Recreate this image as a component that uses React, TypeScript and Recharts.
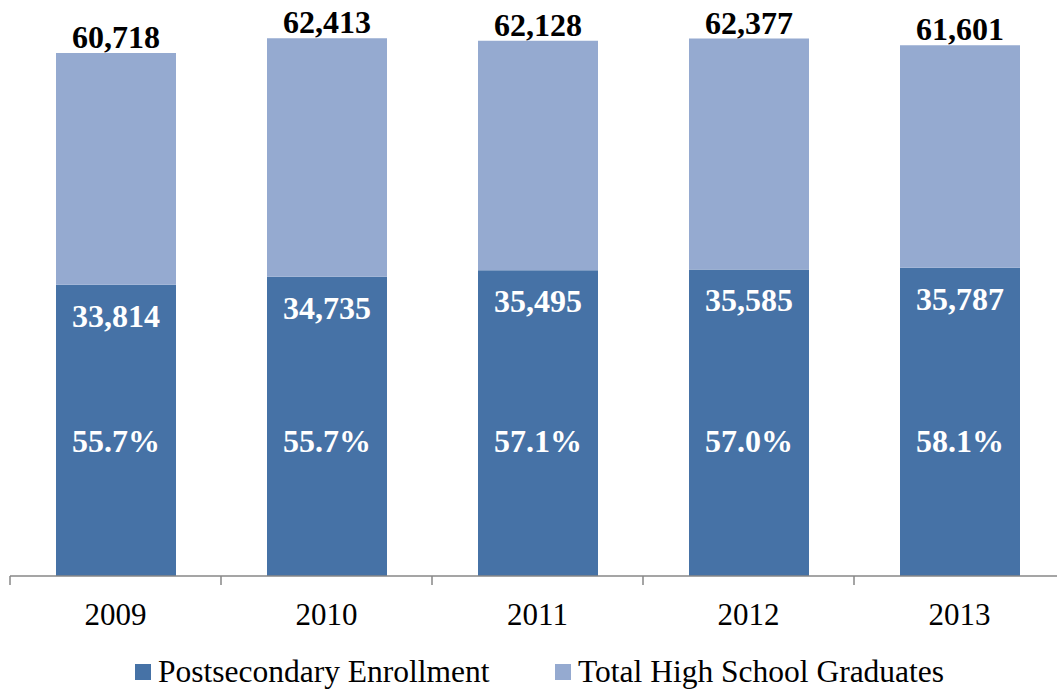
import React from "react";
import { BarChart, Bar, XAxis, YAxis, Legend, LabelList } from "recharts";

const years = ["2009", "2010", "2011", "2012", "2013"];
const totalGraduates = [60718, 62413, 62128, 62377, 61601];
const enrollment = [33814, 34735, 35495, 35585, 35787];
const enrollmentPct = ["55.7%", "55.7%", "57.1%", "57.0%", "58.1%"];

const DARK = "#4672A6";
const LIGHT = "#95AAD0";
const FONT = "'Liberation Serif', 'Times New Roman', serif";

const data = years.map((y, i) => ({
  year: y,
  enrollment: enrollment[i],
  remainder: totalGraduates[i] - enrollment[i],
  total: totalGraduates[i],
  pct: enrollmentPct[i],
}));

const fmt = (v: number) => v.toLocaleString("en-US");

const Tick = (props: any) => {
  const { x, y, payload, index } = props;
  const off = payload && typeof payload.offset === "number" && payload.offset > 0 ? payload.offset : 105.5;
  return (
    <g>
      <line x1={x - off} x2={x - off} y1={y} y2={y + 9} stroke="#878787" strokeWidth={1.5} />
      {index === years.length - 1 && (
        <line x1={x + off} x2={x + off} y1={y} y2={y + 9} stroke="#878787" strokeWidth={1.5} />
      )}
      <text x={x} y={y + 49} textAnchor="middle" fontFamily={FONT} fontSize={31} fill="#000">
        {payload.value}
      </text>
    </g>
  );
};

const EnrollLabel = (props: any) => {
  const { x, y, width, height, index } = props;
  const cx = x + width / 2;
  const bottom = y + height;
  return (
    <g>
      <text x={cx} y={y + 42} textAnchor="middle" fontFamily={FONT} fontWeight="bold" fontSize={32} fill="#fff">
        {fmt(enrollment[index])}
      </text>
      <text x={cx} y={bottom - 124} textAnchor="middle" fontFamily={FONT} fontWeight="bold" fontSize={32} fill="#fff">
        {enrollmentPct[index]}
      </text>
    </g>
  );
};

const TotalLabel = (props: any) => {
  const { x, y, width, index } = props;
  return (
    <text x={x + width / 2} y={y - 5} textAnchor="middle" fontFamily={FONT} fontWeight="bold" fontSize={32} fill="#000">
      {fmt(totalGraduates[index])}
    </text>
  );
};

const LegendContent = () => (
  <div style={{ height: 40, position: "relative", fontFamily: FONT, fontSize: 31.5, color: "#000" }}>
    <div style={{ position: "absolute", left: 135, top: 0, display: "flex", alignItems: "center", height: 40 }}>
      <span style={{ width: 16, height: 16, background: DARK, display: "inline-block", marginRight: 7 }} />
      <span>Postsecondary Enrollment</span>
    </div>
    <div style={{ position: "absolute", left: 555, top: 0, display: "flex", alignItems: "center", height: 40 }}>
      <span style={{ width: 16, height: 16, background: LIGHT, display: "inline-block", marginRight: 7 }} />
      <span>Total High School Graduates</span>
    </div>
  </div>
);

export default function App() {
  return (
    <div style={{ position: "fixed", left: 0, top: 0, width: 1057, height: 692, overflow: "hidden", background: "#fff" }}>
      <BarChart
        width={1065}
        height={692}
        data={data}
        margin={{ top: 16, right: 0, bottom: 0, left: 10 }}
        barSize={120}
      >
        <XAxis
          dataKey="year"
          height={76}
          tickLine={false}
          tickSize={0}
          tickMargin={0}
          axisLine={{ stroke: "#878787", strokeWidth: 1.5 }}
          tick={<Tick />}
          interval={0}
        />
        <YAxis hide domain={[0, 65000]} allowDataOverflow />
        <Legend verticalAlign="bottom" content={<LegendContent />} wrapperStyle={{ left: 0, width: 1065 }} />
        <Bar dataKey="enrollment" stackId="a" fill={DARK} name="Postsecondary Enrollment" isAnimationActive={false}>
          <LabelList dataKey="enrollment" content={<EnrollLabel />} />
        </Bar>
        <Bar dataKey="remainder" stackId="a" fill={LIGHT} name="Total High School Graduates" isAnimationActive={false}>
          <LabelList dataKey="remainder" content={<TotalLabel />} />
        </Bar>
      </BarChart>
    </div>
  );
}
